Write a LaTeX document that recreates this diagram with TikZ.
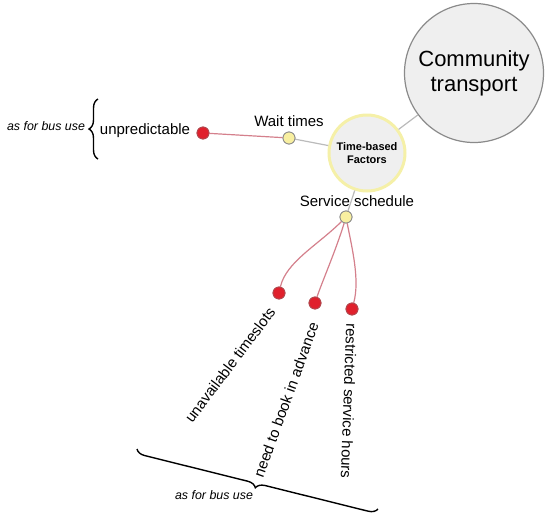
\documentclass[tikz,border=0pt]{standalone}
\usepackage{fontspec}
\setmainfont{Liberation Sans}
\usetikzlibrary{decorations.pathreplacing}
\definecolor{nodegrey}{HTML}{EFEFEF}
\definecolor{ringgrey}{HTML}{8A8A8A}
\definecolor{ringyellow}{HTML}{F5F0A8}
\definecolor{dotyellow}{HTML}{F8EFA0}
\definecolor{dotred}{HTML}{E0202C}
\definecolor{dotredborder}{HTML}{B04A50}
\definecolor{linkred}{HTML}{D4808C}
\definecolor{linkgrey}{HTML}{BBBBBB}
\tikzset{
  bigcircle/.style={circle, fill=nodegrey, draw=ringgrey, line width=1.2pt, minimum size=139pt, inner sep=0pt, align=center, font=\fontsize{22}{25}\selectfont},
  hubcircle/.style={circle, fill=nodegrey, draw=ringyellow, line width=3pt, minimum size=76pt, inner sep=0pt, align=center, font=\bfseries\fontsize{11}{13}\selectfont},
  ydot/.style={circle, fill=dotyellow, draw=ringgrey, line width=0.8pt, minimum size=12pt, inner sep=0pt},
  rdot/.style={circle, fill=dotred, draw=dotredborder, line width=0.8pt, minimum size=12pt, inner sep=0pt},
  lbl/.style={font=\fontsize{15}{17}\selectfont, inner sep=0pt},
  note/.style={font=\itshape\fontsize{12.4}{14}\selectfont, inner sep=0pt},
  greylink/.style={draw=linkgrey, line width=1.2pt},
  redlink/.style={draw=linkred, line width=1.2pt},
  bracestyle/.style={draw=black, line width=1.4pt, decorate, decoration={brace, amplitude=9pt}}
}
\begin{document}
\begin{tikzpicture}[x=1pt, y=-1pt]
\useasboundingbox (0,0) rectangle (550,517);
% nodes
\node[bigcircle] (ct) at (474,73) {Community\\transport};
\node[hubcircle] (tb) at (367,153) {Time-based\\Factors};
\node[ydot] (wt) at (289,138) {};
\node[ydot] (ss) at (346,217) {};
\node[rdot] (up) at (203,133) {};
\node[rdot] (r1) at (279,293) {};
\node[rdot] (r2) at (315,303) {};
\node[rdot] (r3) at (352,309) {};
% connectors
\path[greylink] (tb) -- (ct);
\path[greylink] (wt) -- (tb);
\path[greylink] (ss) -- (tb);
\path[redlink] (up) -- (wt);
\path[redlink] (ss) .. controls (318,245) and (286,262) .. (r1);
\path[redlink] (ss) .. controls (336,250) and (322,282) .. (r2);
\path[redlink] (ss) .. controls (352,248) and (360,280) .. (r3);
% redraw dots on top of the connectors
\node[ydot] at (wt) {};
\node[ydot] at (ss) {};
\node[rdot] at (up) {};
\node[rdot] at (r1) {};
\node[rdot] at (r2) {};
\node[rdot] at (r3) {};
% labels
\node[lbl] (wtl) at (289,121) {Wait times};
\node[lbl] (ssl) at (357,201) {Service schedule};
\node[lbl] (upl) at (145,131) {unpredictable};
\node[lbl, rotate=53] (r1l) at (230,365) {unavailable timeslots};
\node[lbl, rotate=70] (r2l) at (286,400) {need to book in advance};
\node[lbl, rotate=-92] (r3l) at (349,401) {restricted service hours};
% braces and notes
\coordinate (b1a) at (98,159);
\coordinate (b1b) at (98,99);
\draw[bracestyle] (b1a) -- (b1b);
\node[note] (n1) at (46,126) {as for bus use};
\coordinate (b2a) at (378,509);
\coordinate (b2b) at (137,449);
\draw[bracestyle] (b2a) -- (b2b);
\node[note] (n2) at (214,495) {as for bus use};
\end{tikzpicture}
\end{document}
